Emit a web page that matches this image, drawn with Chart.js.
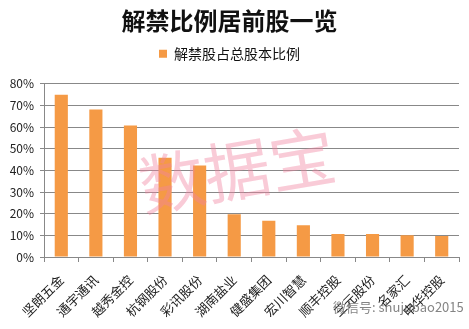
<!DOCTYPE html>
<html>
<head>
<meta charset="utf-8">
<script src="https://cdn.jsdelivr.net/npm/chart.js@4.4.0/dist/chart.umd.min.js"></script>
<style>
html,body{margin:0;padding:0;background:#fff;}
#wrap{width:469px;height:329px;position:relative;}
</style>
</head>
<body>
<div id="wrap"><canvas id="c" width="469" height="329"></canvas></div>
<script>
const categories = ['坚朗五金','通宇通讯','越秀金控','杭钢股份','彩讯股份','湖南盐业','健盛集团','宏川智慧','顺丰控股','三元股份','名家汇','申华控股'];
const ratioValues = [75.0, 68.1, 60.7, 45.9, 42.3, 19.8, 16.7, 14.7, 10.6, 10.6, 10.1, 9.7];
const seriesName = '解禁股占总股本比例';
const titleText = '解禁比例居前股一览';
const watermarkText = '数据宝';
const footerText = '微信号: shujubao2015';

const font = "'Noto Sans CJK SC', 'Noto Sans', sans-serif";

const watermark = {
  id: 'watermark',
  afterDraw(chart) {
    const ctx = chart.ctx;
    ctx.save();
    ctx.translate(237, 170);
    ctx.rotate(-0.17);
    ctx.font = "66px " + font;
    ctx.fillStyle = 'rgba(240,130,160,0.42)';
    ctx.textAlign = 'center';
    ctx.textBaseline = 'middle';
    ctx.fillText(watermarkText, 0, 0);
    ctx.restore();
    ctx.save();
    ctx.font = "13px " + font;
    ctx.fillStyle = 'rgba(110,110,110,0.85)';
    ctx.textAlign = 'left';
    ctx.textBaseline = 'middle';
    ctx.fillText(footerText, 333, 307);
    ctx.restore();
  }
};

const chart = new Chart(document.getElementById('c'), {
  type: 'bar',
  data: {
    labels: categories,
    datasets: [{
      label: seriesName,
      data: ratioValues,
      backgroundColor: '#F59A45',
      borderWidth: 0,
      barPercentage: 0.38,
      categoryPercentage: 1.0
    }]
  },
  options: {
    responsive: false,
    animation: false,
    devicePixelRatio: 1,
    layout: { padding: { left: 0, right: 10, top: 0, bottom: 0 } },
    plugins: {
      title: {
        display: true,
        text: titleText,
        color: '#111',
        font: { family: font, size: 24, weight: 'bold', lineHeight: 1.2 },
        padding: { top: 6, bottom: 0 }
      },
      subtitle: {
        display: true,
        text: ' ',
        weight: 1500,
        font: { size: 1, lineHeight: 1 },
        padding: { top: 0, bottom: 12 }
      },
      legend: {
        display: true,
        position: 'top',
        weight: 1800,
        labels: {
          boxWidth: 8,
          boxHeight: 8,
          color: '#111',
          font: { family: font, size: 14 },
          padding: 12
        }
      },
      tooltip: { enabled: false }
    },
    scales: {
      x: {
        offset: true,
        grid: { display: true, offset: true, drawOnChartArea: false, drawTicks: true, tickLength: 5, color: '#888' },
        border: { display: true, color: '#888' },
        ticks: {
          color: '#222',
          font: { family: font, size: 13 },
          maxRotation: 45,
          minRotation: 45,
          autoSkip: false,
          padding: 10
        },
        afterFit(s) { s.height = 72; }
      },
      y: {
        min: 0,
        max: 80,
        grid: { color: '#888', tickLength: 4, drawTicks: true },
        border: { display: true, color: '#888' },
        ticks: {
          stepSize: 10,
          color: '#222',
          font: { family: font, size: 12 },
          padding: 6,
          callback: v => v + '%'
        },
        afterFit(s) { s.width = 44; }
      }
    }
  },
  plugins: [watermark]
});
</script>
</body>
</html>
